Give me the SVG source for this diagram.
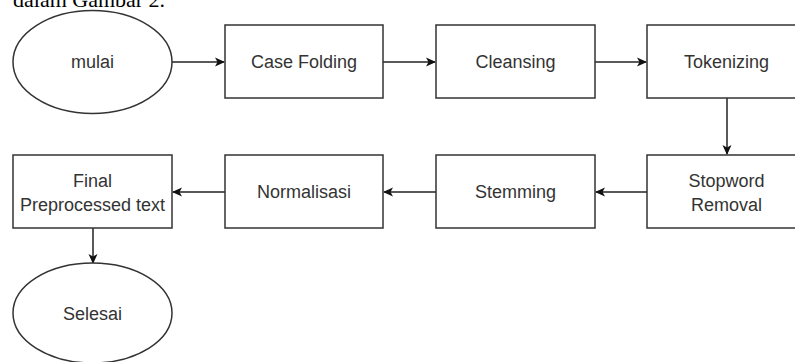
<svg xmlns="http://www.w3.org/2000/svg" width="795" height="362" viewBox="0 0 795 362">
<style>
.shape{fill:#fff;stroke:#333;stroke-width:1.5}
.lbl{font-family:"Liberation Sans",Arial,sans-serif;font-size:18px;fill:#333;text-anchor:middle;dominant-baseline:central}
.conn{stroke:#222;stroke-width:1.5;fill:none}
.hdr{font-family:"Liberation Serif","Times New Roman",serif;font-size:22px;fill:#000}
</style>
<defs>
<marker id="arr" markerWidth="12" markerHeight="12" refX="10" refY="6" orient="auto" markerUnits="userSpaceOnUse">
<path d="M1,1.5 L11,6 L1,10.5 L3.5,6 Z" fill="#111"/>
</marker>
</defs>
<rect width="795" height="362" fill="#fff"/>
<text class="hdr" x="13" y="7">dalam Gambar 2.</text>
<g id="connectors">
<line class="conn" x1="172" y1="62" x2="224" y2="62" marker-end="url(#arr)"/>
<line class="conn" x1="383" y1="62" x2="435" y2="62" marker-end="url(#arr)"/>
<line class="conn" x1="595" y1="62" x2="646" y2="62" marker-end="url(#arr)"/>
<line class="conn" x1="727" y1="98" x2="727" y2="154" marker-end="url(#arr)"/>
<line class="conn" x1="647" y1="192" x2="596" y2="192" marker-end="url(#arr)"/>
<line class="conn" x1="436" y1="192" x2="384" y2="192" marker-end="url(#arr)"/>
<line class="conn" x1="225" y1="192" x2="173" y2="192" marker-end="url(#arr)"/>
<line class="conn" x1="93" y1="228" x2="93" y2="263" marker-end="url(#arr)"/>
</g>
<g id="mulai"><ellipse class="shape" cx="92.5" cy="62" rx="79.5" ry="51.5"/><text class="lbl" x="92.5" y="62">mulai</text></g>
<g id="case-folding"><rect class="shape" x="225" y="25" width="158" height="73"/><text class="lbl" x="304" y="62">Case Folding</text></g>
<g id="cleansing"><rect class="shape" x="436" y="25" width="159" height="73"/><text class="lbl" x="515.5" y="62">Cleansing</text></g>
<g id="tokenizing"><rect class="shape" x="647" y="25" width="159" height="73"/><text class="lbl" x="726.5" y="62">Tokenizing</text></g>
<g id="stopword"><rect class="shape" x="647" y="155" width="159" height="73"/><text class="lbl" x="726.5" y="181">Stopword</text><text class="lbl" x="726.5" y="205">Removal</text></g>
<g id="stemming"><rect class="shape" x="436" y="155" width="159" height="73"/><text class="lbl" x="515.5" y="192">Stemming</text></g>
<g id="normalisasi"><rect class="shape" x="225" y="155" width="158" height="73"/><text class="lbl" x="304" y="192">Normalisasi</text></g>
<g id="final"><rect class="shape" x="13" y="155" width="159" height="73"/><text class="lbl" x="92.5" y="181">Final</text><text class="lbl" x="92.5" y="205">Preprocessed text</text></g>
<g id="selesai"><ellipse class="shape" cx="92.5" cy="313" rx="79.5" ry="50"/><text class="lbl" x="92.5" y="314">Selesai</text></g>
</svg>
